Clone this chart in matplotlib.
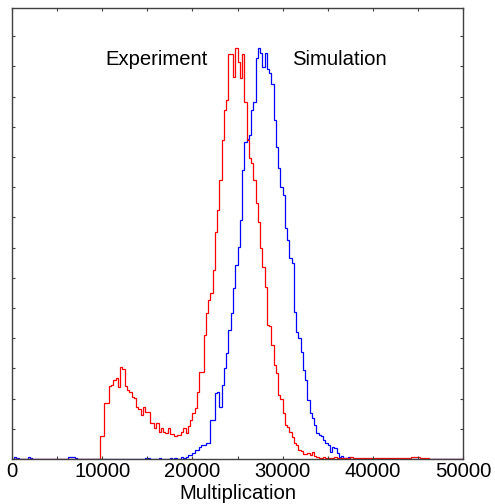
import numpy as np
import matplotlib.pyplot as plt
from matplotlib.ticker import MultipleLocator

plt.rcParams['font.family'] = ['Liberation Sans', 'DejaVu Sans']

# bin edges: 0..50000, width 250
edges = np.arange(0, 50001, 250)

# Experiment histogram (200 bins)
experiment = (
    [0] * 39
    + [77, 77, 186, 186, 242, 245, 261, 267, 239, 305,
       297, 242, 228, 221, 206, 201, 173, 164, 146, 173,
       157, 157, 118, 120, 102, 118, 90, 102, 90, 87,
       102, 84, 84, 75, 79, 79, 90, 102, 87, 108,
       129, 151, 168, 223, 289, 289, 410, 482, 526, 548,
       626, 752, 824, 923, 1056, 1155, 1190, 1340, 1340, 1265,
       1362, 1315, 1261, 1340, 1183, 1056, 995, 979, 923, 846,
       786, 700, 637, 570, 444, 441, 377, 311, 284, 212,
       200, 151, 113, 105, 90, 74, 52, 45, 30, 25,
       18, 15, 20, 12, 22, 10, 8]
    + [4, 3, 5, 2, 4, 3, 2, 5, 3, 2,
       4, 3, 2, 3, 5, 2, 3, 4, 2, 3,
       2, 4, 3, 2, 3, 2, 4, 3, 2, 3,
       2, 3, 2, 3, 4, 2, 3, 2, 3, 2,
       4, 6, 8, 5, 7, 4, 3, 2, 2]
    + [0] * 15
)

# Simulation histogram (200 bins)
simulation = (
    [0, 6, 4, 0, 0, 0, 0, 6, 3, 0,
     0, 0, 0, 0, 0, 0, 0, 0, 0, 0,
     0, 0, 0, 0, 0, 8, 5, 7, 4, 0,
     0, 0, 0, 0, 0, 0, 0, 0, 0, 0,
     0, 0, 0, 0, 0, 0, 0, 0, 0, 0,
     0, 0, 0, 0, 0, 0, 0, 0, 0, 4,
     3, 0, 0, 0, 0, 3, 0, 0, 0, 0,
     4, 0, 3, 0, 0, 5, 4, 8]
    + [13, 13, 20, 30, 30, 41, 46, 46, 52, 52,
       129, 129, 220, 223, 173, 245, 300, 350, 427, 482,
       565, 642, 703, 791, 957, 1050, 1060, 1072, 1155, 1183,
       1326, 1359, 1343, 1298, 1343, 1290, 1277, 1243, 1122, 1034,
       962, 901, 874, 764, 725, 664, 648, 488, 421, 400,
       355, 295, 261, 195, 151, 135, 113, 85, 79, 75,
       63, 52, 46, 24, 41, 35, 19, 8, 10, 4,
       3, 5]
    + [0] * 50
)

fig = plt.figure(figsize=(4.95, 5.04), dpi=100)
ax = fig.add_axes([0.0242, 0.0893, 0.9112, 0.8948])

ax.stairs(simulation, edges, color='blue', linewidth=0.9)
ax.stairs(experiment, edges, color='red', linewidth=0.9)

ax.text(10300, 1324, 'Experiment', fontsize=14.6, ha='left', va='center')
ax.text(31000, 1324, 'Simulation', fontsize=14.6, ha='left', va='center')

ax.set_xlim(0, 50000)
ax.set_ylim(0, 1493)
ax.xaxis.set_major_locator(MultipleLocator(10000))
ax.xaxis.set_minor_locator(MultipleLocator(5000))
ax.yaxis.set_major_locator(MultipleLocator(100))
ax.set_yticklabels([])
ax.tick_params(which='both', direction='in', top=True, right=True,
               length=2.5, width=0.8, color='#404040', labelsize=14.6, pad=2.5)
for s in ax.spines.values():
    s.set_color('#404040')
    s.set_linewidth(1.0)

ax.set_xlabel('Multiplication', fontsize=14.6, labelpad=2)

fig.savefig('out.png', dpi=100)
